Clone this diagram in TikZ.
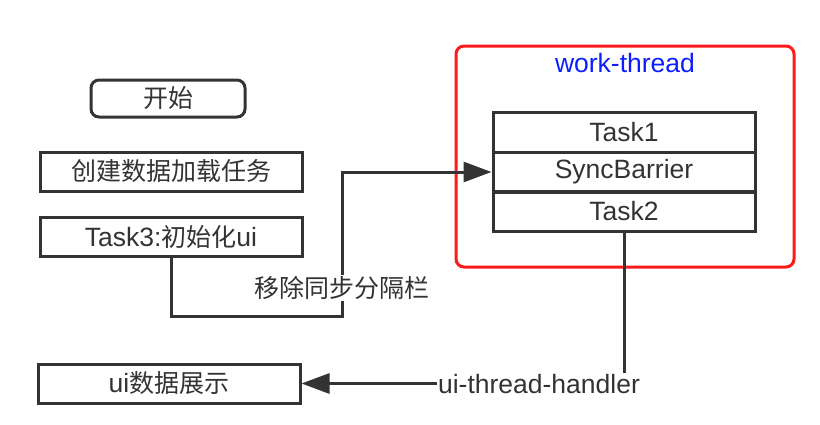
\documentclass[tikz,border=0pt]{standalone}
\usepackage{fontspec}
\setmainfont{Liberation Sans}[Scale=1.06]
\newfontfamily\cjk{Noto Sans CJK SC}
\usetikzlibrary{arrows.meta}
\definecolor{ink}{HTML}{333333}
\definecolor{redframe}{HTML}{FF1A1A}
\definecolor{bluetxt}{HTML}{0A1EFF}
\begin{document}
\begin{tikzpicture}[x=1pt,y=-1pt,
  txt/.style={font=\fontsize{25}{30}\selectfont, text=ink},
  box/.style={txt, draw=ink, line width=3pt, minimum width=262pt, minimum height=39pt, inner sep=0pt, anchor=center},
  rbox/.style={box, rounded corners=8pt, minimum width=154pt, minimum height=37pt},
  cell/.style={box, minimum height=40pt},
  conn/.style={draw=ink, line width=3pt, -{Triangle[length=28pt,width=20pt]}},
  lbl/.style={txt, fill=white, inner sep=1pt}
]
\useasboundingbox (0,0) rectangle (820,424);
\draw[redframe, line width=3pt, rounded corners=8pt] (456,46) rectangle (794,267);
\node[txt, text=bluetxt] (wt) at (625,63) {work-thread};
\node[rbox] (start) at (168,98.5) {\cjk 开始};
\node[box] (create) at (171,171.5) {\cjk 创建数据加载任务};
\node[box] (task3) at (171,237) {Task3:{\cjk 初始化}ui};
\node[box] (show) at (169,383.5) {ui{\cjk 数据展示}};
\node[cell] (task1) at (624,132) {Task1};
\node[cell] (sync) at (624,172) {SyncBarrier};
\node[cell] (task2) at (624,211.5) {Task2};
\coordinate (c1) at (342,316);
\draw[conn] (task3.south) |- (c1) |- (sync.west);
\draw[conn] (task2.south) |- (show.east);
\node[lbl] (l1) at (342,288) {\cjk 移除同步分隔栏};
\node[lbl] (l2) at (539,384) {ui-thread-handler};
\end{tikzpicture}
\end{document}
